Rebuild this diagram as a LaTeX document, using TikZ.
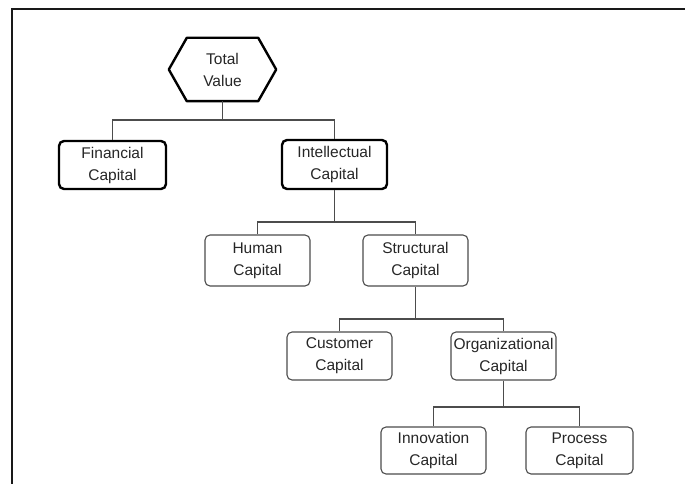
\documentclass[tikz,border=0pt]{standalone}
\usepackage{fontspec}
\setmainfont{Liberation Sans}
\usetikzlibrary{calc}
\begin{document}
\begin{tikzpicture}[x=1pt,y=-1pt,
  lbl/.style={align=center,font=\fontsize{15.5}{22}\selectfont,text=black!85,inner sep=0pt},
  topbox/.style={lbl,draw=black,line width=2.4pt,rounded corners=5pt},
  subbox/.style={lbl,draw=black!70,line width=1.1pt,rounded corners=5pt},
  conn/.style={draw=black!70,line width=1.4pt},
  frame/.style={draw=black!90,line width=1.5pt}]
\useasboundingbox (0,0) rectangle (685,484);
\draw[frame] (685,9) -- (12,9) -- (12,484);
% top hexagon
\node[lbl,minimum width=107pt,minimum height=63pt] (tv) at (222.5,69.5) {Total\\Value};
\draw[black,line width=2.4pt,line join=round]
  (tv.west) -- ($(tv.north west)+(18,0)$) -- ($(tv.north east)+(-18,0)$) -- (tv.east)
  -- ($(tv.south east)+(-18,0)$) -- ($(tv.south west)+(18,0)$) -- cycle;
% level 1
\node[topbox,minimum width=107pt,minimum height=48pt] (fc) at (112.5,165) {Financial\\Capital};
\node[topbox,minimum width=105pt,minimum height=49pt] (ic) at (334.5,164.5) {Intellectual\\Capital};
% level 2
\node[subbox,minimum width=105pt,minimum height=51pt] (hc) at (257.5,260.5) {Human\\Capital};
\node[subbox,minimum width=105pt,minimum height=51pt] (sc) at (415.5,260.5) {Structural\\Capital};
% level 3
\node[subbox,minimum width=105pt,minimum height=48pt] (cc) at (339.5,356) {Customer\\Capital};
\node[subbox,minimum width=105pt,minimum height=48pt] (oc) at (503.5,356) {Organizational\\Capital};
% level 4
\node[subbox,minimum width=105pt,minimum height=47pt] (inn) at (433.5,450.5) {Innovation\\Capital};
\node[subbox,minimum width=107pt,minimum height=47pt] (pc) at (579.5,450.5) {Process\\Capital};
% buses
\coordinate (b1) at (222.5,120);
\coordinate (b2) at (334.5,222);
\coordinate (b3) at (415.5,319);
\coordinate (b4) at (503.5,407);
\draw[conn] (tv.south) -- (b1);
\draw[conn] (fc.north) |- (b1) -| (ic.north);
\draw[conn] (ic.south) -- (b2);
\draw[conn] (hc.north) |- (b2) -| (sc.north);
\draw[conn] (sc.south) -- (b3);
\draw[conn] (cc.north) |- (b3) -| (oc.north);
\draw[conn] (oc.south) -- (b4);
\draw[conn] (inn.north) |- (b4) -| (pc.north);
\end{tikzpicture}
\end{document}
